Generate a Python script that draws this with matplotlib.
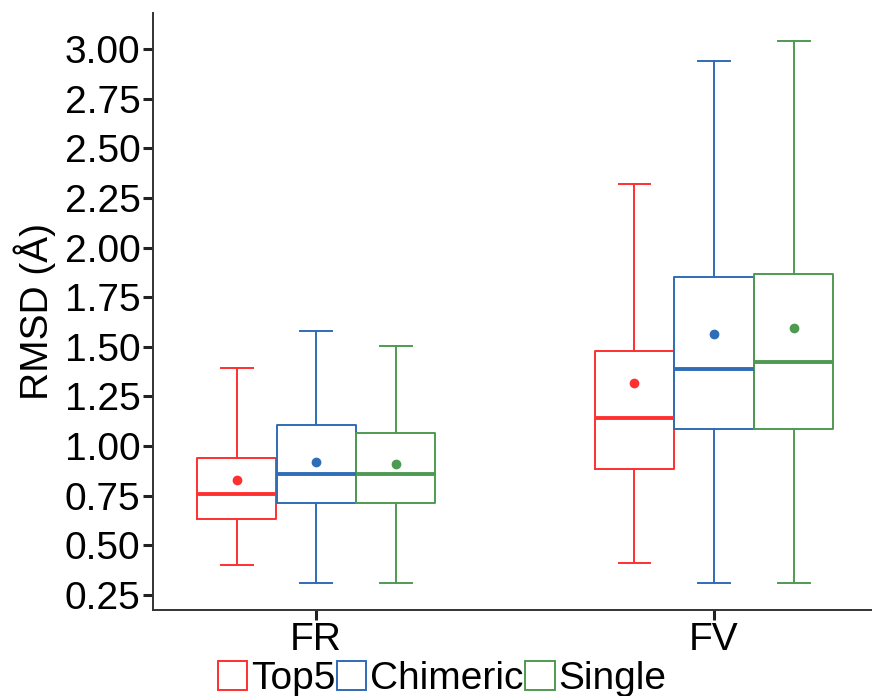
import matplotlib.pyplot as plt
from matplotlib.patches import Patch

plt.rcParams['font.family'] = ['Liberation Sans', 'DejaVu Sans']

# summary statistics per region (FR, FV) for each method
regions = ["FR", "FV"]
methods = ["Top5", "Chimeric", "Single"]
colors = ["#FF3030", "#2F6DB7", "#4E9A52"]

whislo = {"Top5": [0.403, 0.411], "Chimeric": [0.312, 0.309], "Single": [0.312, 0.312]}
q1 = {"Top5": [0.633, 0.883], "Chimeric": [0.715, 1.088], "Single": [0.712, 1.088]}
med = {"Top5": [0.757, 1.140], "Chimeric": [0.858, 1.390], "Single": [0.860, 1.425]}
q3 = {"Top5": [0.939, 1.479], "Chimeric": [1.105, 1.850], "Single": [1.068, 1.869]}
whishi = {"Top5": [1.395, 2.321], "Chimeric": [1.581, 2.942], "Single": [1.504, 3.041]}
means = {"Top5": [0.831, 1.316], "Chimeric": [0.922, 1.565], "Single": [0.910, 1.597]}

fig = plt.figure(figsize=(8.72, 6.96), dpi=100)
ax = fig.add_axes([0.1755, 0.1236, 0.8245, 0.8577])

width = 0.2
for k, m in enumerate(methods):
    offset = (k - 1) * width
    pos = [i + 1 + offset for i in range(len(regions))]
    stats = []
    for i in range(len(regions)):
        stats.append({"whislo": whislo[m][i], "q1": q1[m][i], "med": med[m][i],
                      "q3": q3[m][i], "whishi": whishi[m][i], "mean": means[m][i],
                      "fliers": []})
    c = colors[k]
    ax.bxp(stats, positions=pos, widths=width * 0.995, capwidths=0.08,
           showmeans=True, manage_ticks=False,
           boxprops=dict(color=c, linewidth=1.4),
           whiskerprops=dict(color=c, linewidth=1.4),
           capprops=dict(color=c, linewidth=1.4),
           medianprops=dict(color=c, linewidth=2.8, solid_capstyle='butt'),
           meanprops=dict(marker='o', markerfacecolor=c, markeredgecolor=c,
                          markersize=6))

ax.set_xlim(0.59, 2.397)
ax.set_ylim(0.174, 3.182)
ax.set_xticks([1, 2])
ax.set_xticklabels(regions)
ax.set_yticks([0.25, 0.5, 0.75, 1.0, 1.25, 1.5, 1.75, 2.0, 2.25, 2.5, 2.75, 3.0])
ax.set_yticklabels(["%.2f" % v for v in ax.get_yticks()])
ax.tick_params(labelsize=28, length=7, width=2.2, color="#222222", pad=2)
ax.tick_params(axis="x", pad=2)
ax.set_ylabel("RMSD (Å)", fontsize=28, labelpad=6)

for s in ["top", "right"]:
    ax.spines[s].set_visible(False)
for s in ["left", "bottom"]:
    ax.spines[s].set_color("#333333")
    ax.spines[s].set_linewidth(1.4)

handles = [Patch(facecolor="white", edgecolor=c, linewidth=1.4, label=m)
           for m, c in zip(methods, colors)]
fig.legend(handles=handles, loc="center", bbox_to_anchor=(0.507, 0.024), ncol=3,
           frameon=False, fontsize=28, handlelength=0.75, handleheight=0.75,
           handletextpad=0.1, columnspacing=0.05, borderpad=0, borderaxespad=0)

fig.savefig("out.png", dpi=100)
